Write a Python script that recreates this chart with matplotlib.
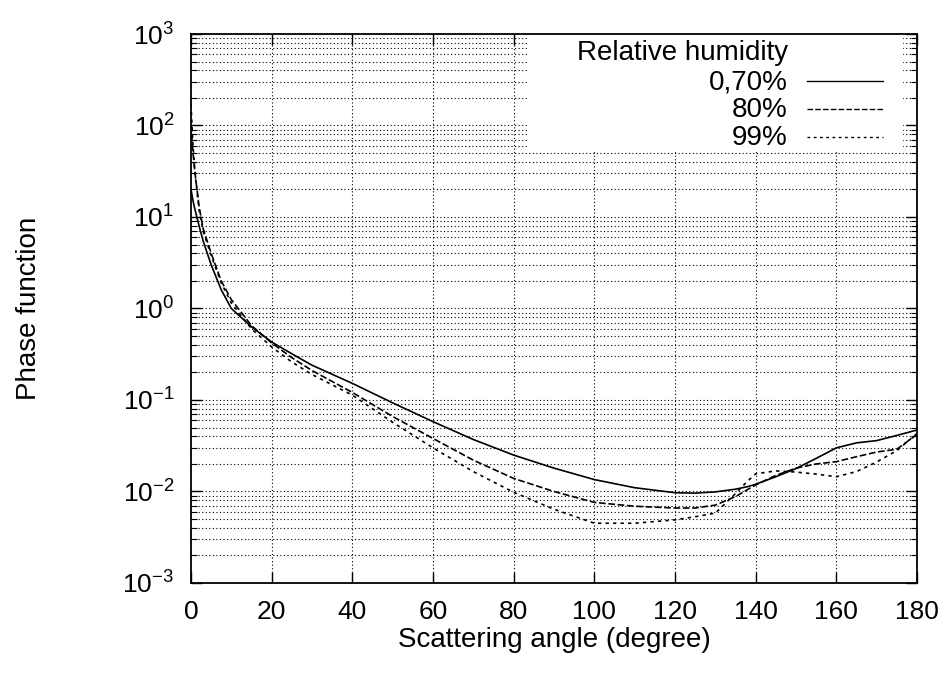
import numpy as np
import matplotlib
matplotlib.use("Agg")
import matplotlib.pyplot as plt
from matplotlib.patches import Rectangle
from matplotlib.lines import Line2D

plt.rcParams['font.family'] = ['Liberation Sans', 'DejaVu Sans']
plt.rcParams['mathtext.fontset'] = 'custom'
plt.rcParams['mathtext.rm'] = 'Liberation Sans'
plt.rcParams['mathtext.it'] = 'Liberation Sans'

# ---- data ----
angle = [0, 0.5, 1, 2, 3, 5, 7.5, 10, 15, 20, 25, 30, 40, 50, 60, 70, 80, 90,
         100, 110, 120, 125, 130, 135, 138, 140, 145, 150, 155, 160, 165, 170, 175, 180]
rh_0_70 = [20, 15, 12, 8, 5.5, 3.0, 1.6, 1.0, 0.63, 0.43, 0.32, 0.24, 0.152, 0.093, 0.058,
           0.037, 0.025, 0.018, 0.0135, 0.011, 0.0097, 0.0096, 0.0099, 0.0106, 0.0113, 0.012,
           0.0145, 0.0178, 0.023, 0.030, 0.034, 0.036, 0.041, 0.047]
rh_80 = [100, 50, 30, 13, 7.5, 4.0, 2.0, 1.25, 0.65, 0.42, 0.29, 0.21, 0.121, 0.066, 0.038,
         0.022, 0.0139, 0.0100, 0.0076, 0.0069, 0.0066, 0.0066, 0.0071, 0.0088, 0.0105, 0.0118,
         0.0150, 0.0180, 0.0200, 0.0212, 0.024, 0.027, 0.029, 0.042]
rh_99 = [170, 60, 30, 12, 7.0, 3.8, 1.9, 1.15, 0.60, 0.38, 0.26, 0.19, 0.113, 0.057, 0.030,
         0.0165, 0.0098, 0.0064, 0.0045, 0.0045, 0.0049, 0.0053, 0.0058, 0.0095, 0.013, 0.0156,
         0.0168, 0.0163, 0.0155, 0.0145, 0.0165, 0.021, 0.028, 0.043]
xticks = [0, 20, 40, 60, 80, 100, 120, 140, 160, 180]
legend_title = "Relative humidity"
labels = ["0,70%", "80%", "99%"]

fig = plt.figure(figsize=(9.46, 6.74), dpi=100)
ax = fig.add_axes([191/946, 1-583/674, 726/946, 549/674])
ax.set_yscale('log')
ax.set_xlim(0, 180)
ax.set_ylim(1e-3, 1e3)

# grid (manual, so the legend box can hide it but not the ticks)
gkw = dict(color='black', lw=0.8, linestyle=(0, (1, 2.2)), zorder=1)
for xv in xticks[1:-1]:
    ax.axvline(xv, **gkw)
for dec in range(-3, 3):
    for m in range(1, 10):
        v = m * 10.0**dec
        if 1e-3 < v < 1e3:
            ax.axhline(v, **gkw)

styles = ['-', (0, (4, 1.6)), (0, (2, 2.5))]
for ys, ls, lab in zip([rh_0_70, rh_80, rh_99], styles, labels):
    ax.plot(angle, ys, color='black', lw=1.2, linestyle=ls, zorder=4)

# legend box (white, no frame)
ax.add_patch(Rectangle((0.463, 0.785), 0.518, 0.215, transform=ax.transAxes,
                       facecolor='white', edgecolor='none', zorder=2))
ax.text(0.822, 0.9526, legend_title, transform=ax.transAxes, ha='right', va='baseline',
        fontsize=20, zorder=5)
for lab, ls, yb, yl in zip(labels, styles, [0.898, 0.849, 0.798], [0.915, 0.8634, 0.813]):
    ax.text(0.822, yb, lab, transform=ax.transAxes, ha='right', va='baseline',
            fontsize=20, zorder=5)
    ax.add_line(Line2D([0.848, 0.953], [yl, yl], transform=ax.transAxes,
                       color='black', lw=1.0, linestyle=ls, zorder=5))

ax.set_xticks(xticks)
ax.set_yticks([10.0**k for k in range(-3, 4)])
ax.set_yticklabels([r'$10^{%d}$' % k for k in range(-3, 4)])
ax.tick_params(which='both', direction='in', top=True, right=True, labelsize=19)
ax.tick_params(which='major', length=8, width=1.0)
ax.tick_params(which='minor', length=4, width=0.8)
ax.tick_params(axis='x', pad=12)
ax.tick_params(axis='y', pad=12)
ax.xaxis.set_minor_locator(matplotlib.ticker.NullLocator())
for s in ax.spines.values():
    s.set_linewidth(1.3)
    s.set_zorder(6)

ax.set_xlabel("Scattering angle (degree)", fontsize=20)
ax.set_ylabel("Phase function", fontsize=20)
ax.xaxis.set_label_coords(0.5, -0.08)
ax.yaxis.set_label_coords(-0.205, 0.5)

fig.savefig("out.png", dpi=100)
